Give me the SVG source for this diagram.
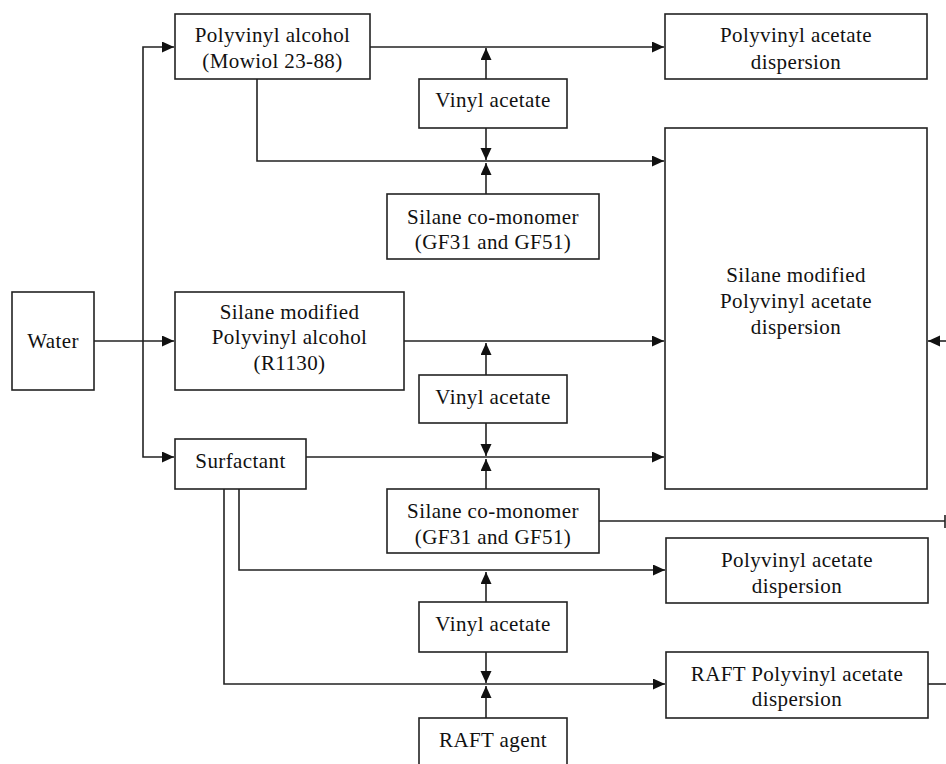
<svg xmlns="http://www.w3.org/2000/svg" width="946" height="764" viewBox="0 0 946 764">
<style>
.box{fill:#fff;stroke:#222;stroke-width:1.6}
.t{font-family:"Liberation Serif","Times New Roman",serif;font-size:21px;letter-spacing:0.4px;fill:#111;text-anchor:middle}
.c{fill:none;stroke:#222;stroke-width:1.6}
</style>
<defs>
<marker id="ah" markerUnits="userSpaceOnUse" markerWidth="14" markerHeight="12" refX="12" refY="5.5" orient="auto">
<path d="M0,0 L12,5.5 L0,11 z" fill="#111"/>
</marker>
</defs>
<rect width="946" height="764" fill="#fff"/>
<g id="connectors">
<path class="c" d="M94,341 H174" marker-end="url(#ah)"/>
<path class="c" d="M143,341 V47 H174" marker-end="url(#ah)"/>
<path class="c" d="M143,341 V457 H174" marker-end="url(#ah)"/>
<path class="c" d="M370,47 H664" marker-end="url(#ah)"/>
<path class="c" d="M486,79 V48" marker-end="url(#ah)"/>
<path class="c" d="M257,79 V161 H664" marker-end="url(#ah)"/>
<path class="c" d="M486,128 V160" marker-end="url(#ah)"/>
<path class="c" d="M486,194 V163" marker-end="url(#ah)"/>
<path class="c" d="M404,341 H664" marker-end="url(#ah)"/>
<path class="c" d="M486,375 V343" marker-end="url(#ah)"/>
<path class="c" d="M306,457 H664" marker-end="url(#ah)"/>
<path class="c" d="M486,423 V456" marker-end="url(#ah)"/>
<path class="c" d="M486,489 V459" marker-end="url(#ah)"/>
<path class="c" d="M946,341 H928" marker-end="url(#ah)"/>
<path class="c" d="M599,521 H945 M945,515 V528"/>
<path class="c" d="M239,489 V570 H665" marker-end="url(#ah)"/>
<path class="c" d="M486,602 V572" marker-end="url(#ah)"/>
<path class="c" d="M224,489 V684 H665" marker-end="url(#ah)"/>
<path class="c" d="M486,652 V683" marker-end="url(#ah)"/>
<path class="c" d="M486,718 V686" marker-end="url(#ah)"/>
<path class="c" d="M928,684 H946"/>
</g>
<g id="water"><rect class="box" x="12" y="292" width="82" height="98"/><text class="t" x="53" y="348">Water</text></g>
<g id="pva"><rect class="box" x="175" y="14" width="195" height="65"/><text class="t" x="272.5" y="42">Polyvinyl alcohol</text><text class="t" x="272.5" y="68">(Mowiol 23-88)</text></g>
<g id="smpva"><rect class="box" x="175" y="292" width="229" height="98"/><text class="t" x="289.5" y="319">Silane modified</text><text class="t" x="289.5" y="344">Polyvinyl alcohol</text><text class="t" x="289.5" y="370">(R1130)</text></g>
<g id="surfactant"><rect class="box" x="175" y="439" width="131" height="50"/><text class="t" x="240.5" y="468">Surfactant</text></g>
<g id="va1"><rect class="box" x="419" y="79" width="148" height="49"/><text class="t" x="493" y="107">Vinyl acetate</text></g>
<g id="silane1"><rect class="box" x="387" y="194" width="212" height="65"/><text class="t" x="493" y="224">Silane co-monomer</text><text class="t" x="493" y="249">(GF31 and GF51)</text></g>
<g id="va2"><rect class="box" x="419" y="375" width="148" height="48"/><text class="t" x="493" y="404">Vinyl acetate</text></g>
<g id="silane2"><rect class="box" x="387" y="489" width="212" height="64"/><text class="t" x="493" y="518">Silane co-monomer</text><text class="t" x="493" y="544">(GF31 and GF51)</text></g>
<g id="va3"><rect class="box" x="419" y="602" width="148" height="50"/><text class="t" x="493" y="631">Vinyl acetate</text></g>
<g id="raft"><rect class="box" x="419" y="718" width="148" height="60"/><text class="t" x="493" y="747">RAFT agent</text></g>
<g id="pvac1"><rect class="box" x="665" y="14" width="262" height="65"/><text class="t" x="796" y="42">Polyvinyl acetate</text><text class="t" x="796" y="69">dispersion</text></g>
<g id="smpvac"><rect class="box" x="665" y="128" width="262" height="361"/><text class="t" x="796" y="282">Silane modified</text><text class="t" x="796" y="308">Polyvinyl acetate</text><text class="t" x="796" y="334">dispersion</text></g>
<g id="pvac3"><rect class="box" x="666" y="538" width="262" height="65"/><text class="t" x="797" y="567">Polyvinyl acetate</text><text class="t" x="797" y="593">dispersion</text></g>
<g id="raftpvac"><rect class="box" x="666" y="652" width="262" height="66"/><text class="t" x="797" y="681">RAFT Polyvinyl acetate</text><text class="t" x="797" y="706">dispersion</text></g>
</svg>
